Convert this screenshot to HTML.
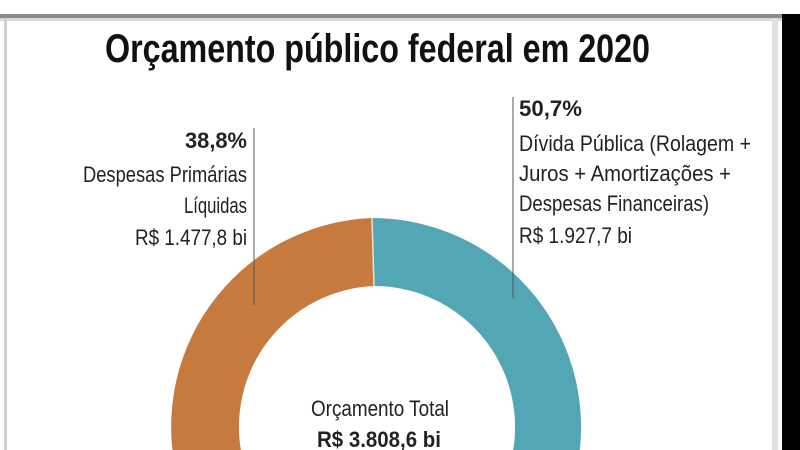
<!DOCTYPE html>
<html><head><meta charset="utf-8"><style>html,body{margin:0;padding:0;background:#fff;width:800px;height:450px;overflow:hidden;}svg{display:block;}</style></head>
<body>
<svg width="800" height="450" viewBox="0 0 800 450" xmlns="http://www.w3.org/2000/svg" font-family="Liberation Sans, sans-serif">
<rect width="800" height="450" fill="#fff"/>
<rect x="0" y="14" width="785" height="4" fill="#8a8a8a"/>
<rect x="0" y="18" width="785" height="3" fill="#d8d8d8"/>
<rect x="4" y="18" width="3" height="432" fill="#d0d0d0"/>
<rect x="772" y="18" width="6" height="432" fill="#e2e2e2"/>
<rect x="782" y="14" width="18" height="436" fill="#000"/>
<text x="105" y="62" font-size="40" font-weight="bold" fill="#111" textLength="545" lengthAdjust="spacingAndGlyphs">Orçamento público federal em 2020</text>
<g transform="translate(380,427)">
<path d="M -8 -209 A 209 209 0 1 1 -8 209 L -6 141 A 141 141 0 1 0 -6 -141 Z" fill="#53a6b3"/>
<path d="M -8 -209 A 209 209 0 0 0 -200 60 L -127.6 60 A 141 141 0 0 1 -6 -141 Z" fill="#c77a3d"/>
<line x1="-8" y1="-209" x2="-6" y2="-141" stroke="#e8e0d0" stroke-width="1.5"/>
</g>
<line x1="254" y1="128" x2="254" y2="305" stroke="#555" stroke-width="1"/>
<line x1="513" y1="97" x2="513" y2="298" stroke="#555" stroke-width="1"/>
<g font-size="22" fill="#222">
<text x="185" y="148" font-weight="bold" textLength="62" lengthAdjust="spacingAndGlyphs">38,8%</text>
<text x="83" y="182" textLength="164" lengthAdjust="spacingAndGlyphs">Despesas Primárias</text>
<text x="184" y="213" textLength="63" lengthAdjust="spacingAndGlyphs">Líquidas</text>
<text x="135" y="245" textLength="112" lengthAdjust="spacingAndGlyphs">R$ 1.477,8 bi</text>
<text x="519" y="116" font-weight="bold" textLength="63" lengthAdjust="spacingAndGlyphs">50,7%</text>
<text x="519" y="151" textLength="232" lengthAdjust="spacingAndGlyphs">Dívida Pública (Rolagem +</text>
<text x="519" y="181" textLength="212" lengthAdjust="spacingAndGlyphs">Juros + Amortizações +</text>
<text x="519" y="211" textLength="190" lengthAdjust="spacingAndGlyphs">Despesas Financeiras)</text>
<text x="519" y="243" textLength="113" lengthAdjust="spacingAndGlyphs">R$ 1.927,7 bi</text>
<text x="311" y="416" textLength="138" lengthAdjust="spacingAndGlyphs">Orçamento Total</text>
<text x="317" y="447" font-weight="bold" textLength="124" lengthAdjust="spacingAndGlyphs">R$ 3.808,6 bi</text>
</g>
</svg>
</body></html>
